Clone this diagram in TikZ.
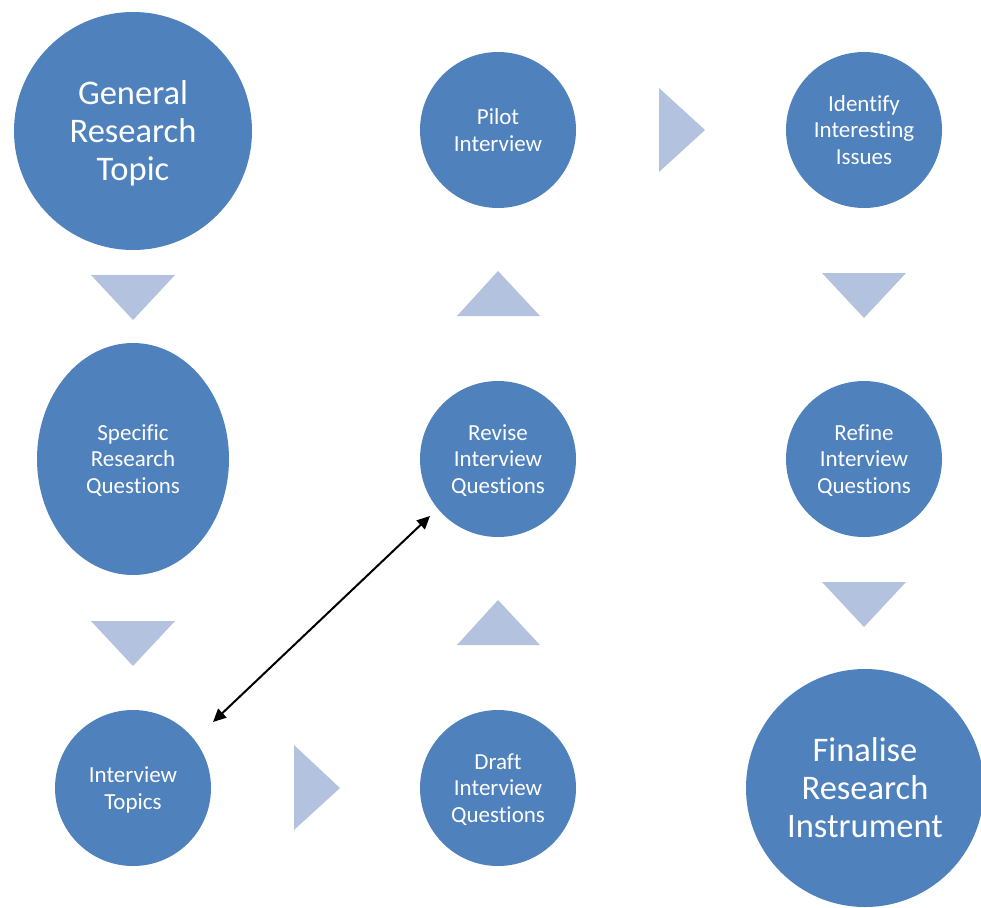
\documentclass[tikz,border=0pt]{standalone}
\usepackage{fontspec}
\setmainfont[Ligatures=CommonOff]{Carlito}
\usetikzlibrary{arrows.meta,shapes.geometric}
\definecolor{cblue}{HTML}{4F81BD}
\definecolor{tri}{HTML}{B3C2DE}
\begin{document}
\begin{tikzpicture}[x=1pt,y=-1pt,
  circ/.style={circle,fill=cblue,text=white,align=center,inner sep=0pt,minimum size=156pt,font=\fontsize{23}{26.5}\selectfont,text depth=-2pt},
  bigcirc/.style={circle,fill=cblue,text=white,align=center,inner sep=0pt,minimum size=238pt,font=\fontsize{34.5}{38}\selectfont,text depth=-2pt},
  oval/.style={ellipse,fill=cblue,text=white,align=center,inner sep=0pt,minimum width=192pt,minimum height=232pt,font=\fontsize{23}{26.5}\selectfont,text depth=-2pt},
  tri/.style={fill=tri}]
\useasboundingbox (0,0) rectangle (981,907);
\node[bigcirc] (gen) at (133,131) {General\\Research\\Topic};
\node[oval] (spec) at (133,459) {Specific\\Research\\Questions};
\node[circ] (topics) at (133,788) {Interview\\Topics};
\node[circ] (draft) at (498,788) {Draft\\Interview\\Questions};
\node[circ] (revise) at (498,459) {Revise\\Interview\\Questions};
\node[circ] (pilot) at (498,130) {Pilot\\Interview};
\node[circ] (ident) at (864,130) {Identify\\Interesting\\Issues};
\node[circ] (refine) at (864,459) {Refine\\Interview\\Questions};
\node[bigcirc] (final) at (865,788) {Finalise\\Research\\Instrument};
% triangles
\fill[tri] (91,275) -- (175,275) -- (133,320) -- cycle;
\fill[tri] (91,621) -- (175,621) -- (133,666) -- cycle;
\fill[tri] (294,745) -- (294,830) -- (340,788) -- cycle;
\fill[tri] (457,645) -- (540,645) -- (498,600) -- cycle;
\fill[tri] (457,316) -- (540,316) -- (498,271) -- cycle;
\fill[tri] (659,88) -- (659,172) -- (705,130) -- cycle;
\fill[tri] (822,273) -- (906,273) -- (864,318) -- cycle;
\fill[tri] (822,582) -- (906,582) -- (864,627) -- cycle;
\coordinate (a1) at (213,722);
\coordinate (a2) at (430,516);
\draw[line width=2pt,{Triangle[length=13pt,width=12pt]}-{Triangle[length=13pt,width=12pt]}] (a1) -- (a2);
\end{tikzpicture}
\end{document}
